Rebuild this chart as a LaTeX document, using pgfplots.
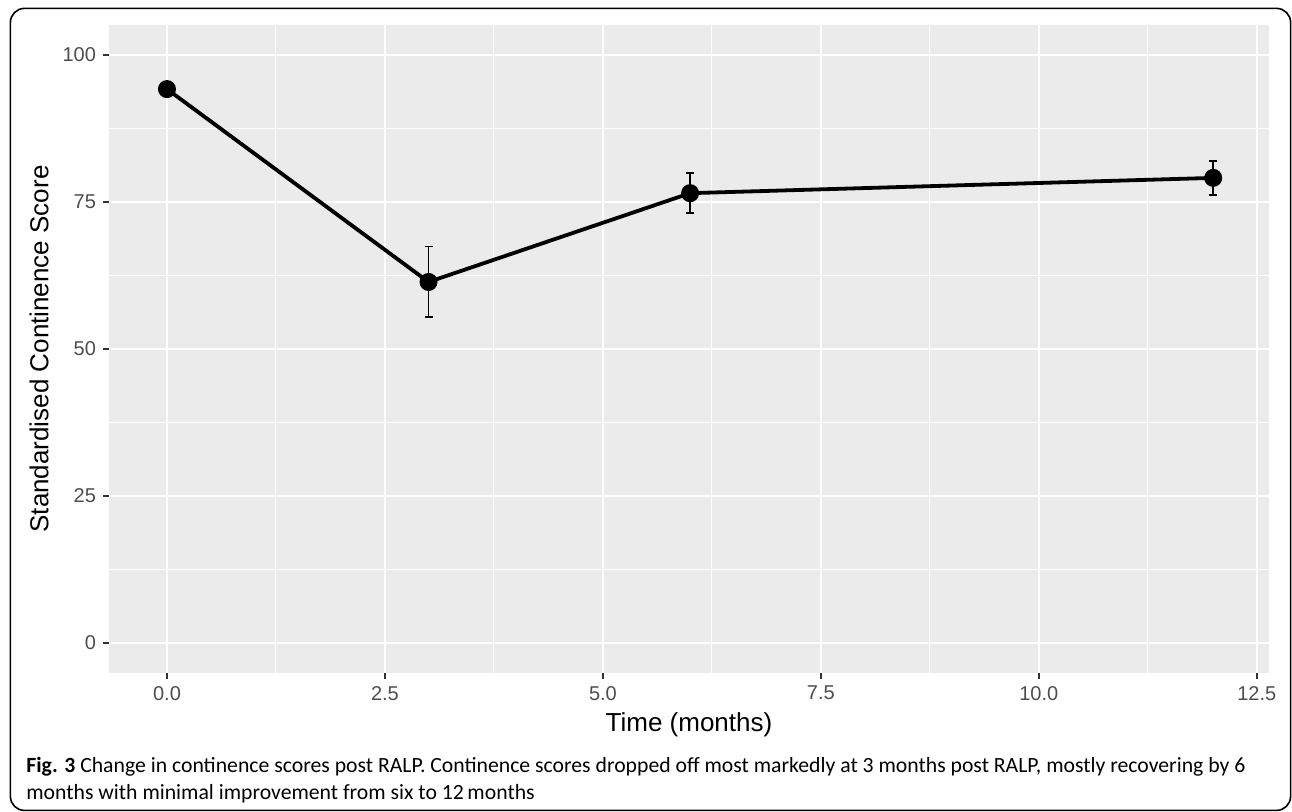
\documentclass[border=0pt]{standalone}
\usepackage{fontspec}
\setmainfont{Liberation Sans}
\newfontfamily\capfont{Carlito}
\usepackage{graphicx}
\usepackage{pgfplots}
\pgfplotsset{compat=1.18}
\definecolor{panel}{HTML}{EBEBEB}
\definecolor{tickc}{HTML}{333333}
\definecolor{tlab}{HTML}{4D4D4D}
\definecolor{captext}{HTML}{231F20}
\newsavebox\capone
\newsavebox\captwo
\pgfplotstableread{
x y err
3 61.4 6.0
6 76.5 3.4
12 79.1 2.9
}\errdata
\begin{document}
\sbox\capone{\capfont\fontsize{10}{12}\selectfont\textbf{Fig. 3} Change in continence scores post RALP. Continence scores dropped off most markedly at 3 months post RALP, mostly recovering by 6}%
\sbox\captwo{\capfont\fontsize{10}{12}\selectfont months with minimal improvement from six to 12\,months}%
\pgfmathsetmacro\capscale{609.5/\the\wd\capone}%
\begin{tikzpicture}
\useasboundingbox (0,0) rectangle (646pt,-406pt);
\draw[line width=0.8pt, rounded corners=7pt] (5.2pt,-4.2pt) rectangle (645.3pt,-405.2pt);
\begin{axis}[
  at={(54.5pt,-336.5pt)}, anchor=south west,
  scale only axis, width=580pt, height=324pt,
  xmin=-0.665, xmax=12.64, ymin=-5.1, ymax=105.1,
  axis background/.style={fill=panel},
  axis x line*=bottom, axis y line*=left,
  axis line style={draw=none},
  xtick={0,2.5,5,7.5,10,12.5},
  minor xtick={1.25,3.75,6.25,8.75,11.25},
  ytick={0,25,50,75,100},
  minor ytick={12.5,37.5,62.5,87.5},
  grid=both,
  major grid style={white, line width=1.1pt},
  minor grid style={white!97!panel, line width=0.5pt},
  tick align=outside,
  major tick length=3pt, minor tick length=0pt,
  tick style={tickc, line width=1pt},
  xticklabel style={/pgf/number format/.cd, fixed, fixed zerofill, precision=1},
  ticklabel style={font=\fontsize{10}{12}\selectfont, text=tlab},
  /pgf/number format/assume math mode=true,
  xlabel={Time (months)}, ylabel={Standardised Continence Score},
  every axis x label/.style={at={(axis description cs:0.5,-0.0802)}, anchor=center, font=\fontsize{13}{15}\selectfont, text=black},
  every axis y label/.style={at={(axis description cs:-0.0603,0.5)}, rotate=90, anchor=center, font=\fontsize{13}{15}\selectfont, text=black},
]
\addplot[draw=none, mark=none, forget plot,
  error bars/.cd, y dir=both, y explicit,
  error bar style={draw=black, line width=0.75pt},
  error mark options={rotate=90, mark size=2pt, draw=black, line width=0.75pt}]
  table[x=x, y=y, y error=err] {\errdata};
\addplot[black, line width=1.9pt, mark=*, mark size=4pt, mark options={fill=black, line width=1pt}]
  coordinates {(0,94.2) (3,61.4) (6,76.5) (12,79.1)};
\end{axis}
\node[anchor=base west, inner sep=0pt, text=captext] at (13pt,-386pt) {\scalebox{\capscale}{\usebox\capone}};
\node[anchor=base west, inner sep=0pt, text=captext] at (13pt,-399.5pt) {\scalebox{\capscale}{\usebox\captwo}};
\end{tikzpicture}
\end{document}
